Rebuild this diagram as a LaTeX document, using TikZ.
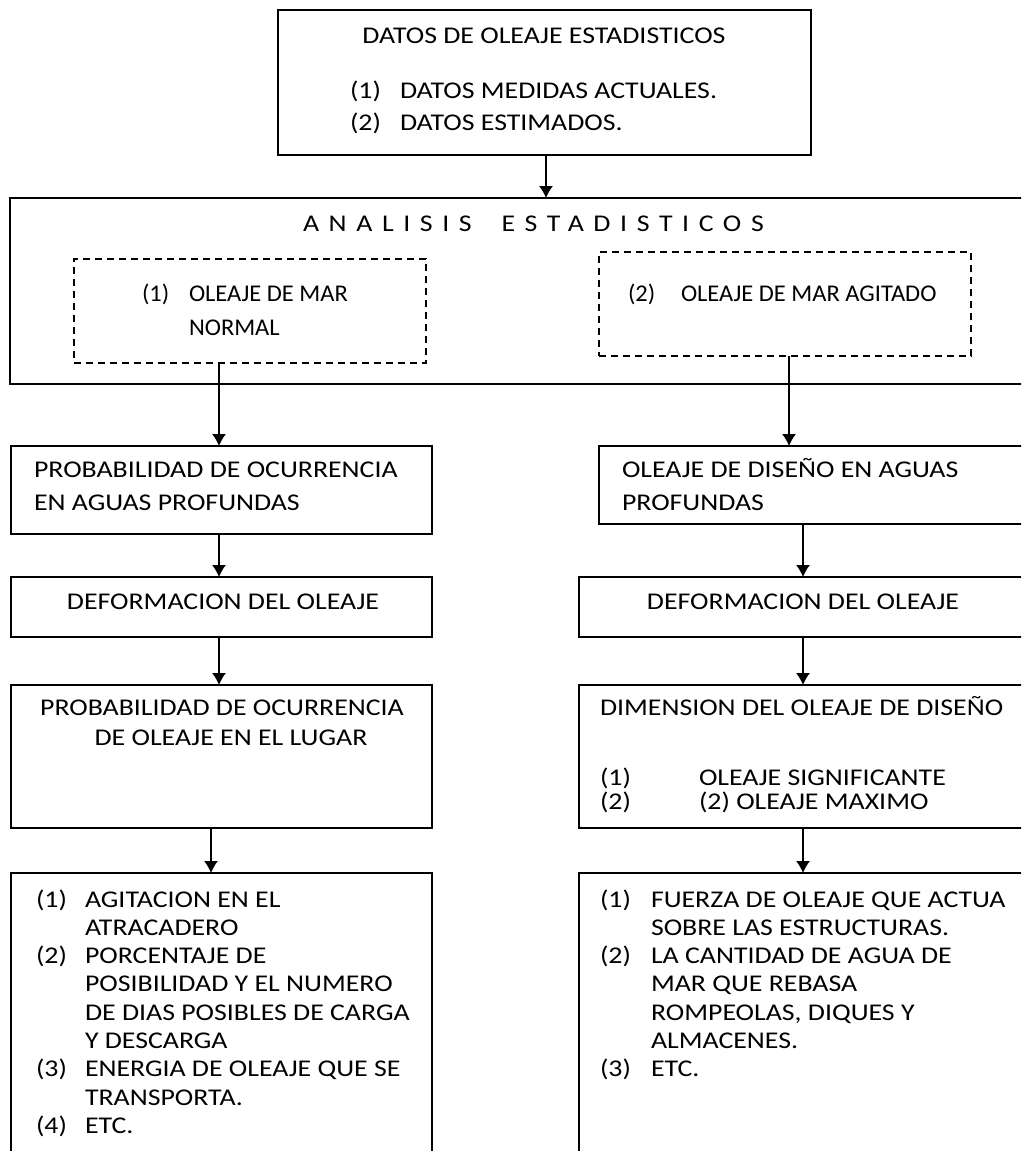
\documentclass[tikz,border=0pt]{standalone}
\usepackage{fontspec}
\setmainfont{Carlito}[FakeStretch=1.16]
\newfontfamily\spacedfont{Carlito}[FakeStretch=1.16,LetterSpace=40]
\newfontfamily\plainfont{Carlito}[FakeStretch=1.02]
\usetikzlibrary{arrows.meta}
\usetikzlibrary{positioning}
\tikzset{%
  >={Latex[length=12pt,width=14pt]},
  box/.style={draw,line width=1.2pt,inner sep=0pt,outer sep=0pt,anchor=north west},
  dashbox/.style={box,dash pattern=on 7pt off 5pt},
  txt/.style={inner sep=0pt,outer sep=0pt,anchor=base west,
    font=\fontsize{24}{28.3}\selectfont},
  ntxt/.style={txt,font=\plainfont\fontsize{24}{28.3}\selectfont},
  ctxt/.style={txt,anchor=base},
  flow/.style={->,line width=1.2pt}
}

\begin{document}
\begin{tikzpicture}[x=1pt,y=-1pt]
\useasboundingbox (0,0) rectangle (1021,1151);
\clip (0,0) rectangle (1021,1151);

% cajas
\node[box,minimum width=533pt,minimum height=145pt] (datos) at (278,10) {};
\node[box,minimum width=1020pt,minimum height=186pt] (ana) at (10,198) {};
\node[dashbox,minimum width=352pt,minimum height=104pt] (dashL) at (74,259) {};
\node[dashbox,minimum width=372pt,minimum height=104pt] (dashR) at (599,252) {};
\node[box,minimum width=421pt,minimum height=88pt] (probL) at (11,446) {};
\node[box,minimum width=431pt,minimum height=78pt] (disR) at (599,446) {};
\node[box,minimum width=421pt,minimum height=60pt] (defL) at (11,577) {};
\node[box,minimum width=451pt,minimum height=60pt] (defR) at (579,577) {};
\node[box,minimum width=421pt,minimum height=143pt] (ocL) at (11,685) {};
\node[box,minimum width=451pt,minimum height=143pt] (dimR) at (579,685) {};
\node[box,minimum width=421pt,minimum height=300pt] (resL) at (11,873) {};
\node[box,minimum width=451pt,minimum height=300pt] (resR) at (579,873) {};

% flechas
\coordinate (xt) at (546,0);
\coordinate (xl) at (219,0);
\coordinate (xl2) at (211,0);
\coordinate (xr) at (789,0);
\coordinate (xr2) at (803,0);
\draw[flow] (datos.south -| xt) -- (ana.north -| xt);
\draw[flow] (dashL.south -| xl) -- (probL.north -| xl);
\draw[flow] (probL.south -| xl) -- (defL.north -| xl);
\draw[flow] (defL.south -| xl) -- (ocL.north -| xl);
\draw[flow] (ocL.south -| xl2) -- (resL.north -| xl2);
\draw[flow] (dashR.south -| xr) -- (disR.north -| xr);
\draw[flow] (disR.south -| xr2) -- (defR.north -| xr2);
\draw[flow] (defR.south -| xr2) -- (dimR.north -| xr2);
\draw[flow] (dimR.south -| xr2) -- (resR.north -| xr2);

% textos
\node[ctxt] (datosT) at (544,43) {DATOS DE OLEAJE ESTADISTICOS};
\node[txt] (datos1) at (350,98) {(1)};
\node[txt] (datos1t) at (400,98) {DATOS MEDIDAS ACTUALES.};
\node[txt] (datos2) at (350,130) {(2)};
\node[txt] (datos2t) at (400,130) {DATOS ESTIMADOS.};

\node[txt] (anaT) at (303,231) {\spacedfont ANALISIS\hspace{30pt}ESTADISTICOS};

\node[ntxt] (dashL1) at (142,301) {(1)};
\node[ntxt] (dashL1t) at (189,301) {OLEAJE DE MAR};
\node[ntxt] (dashL2t) at (189,335) {NORMAL};
\node[ntxt] (dashR1) at (628,301) {(2)};
\node[ntxt] (dashR1t) at (681,301) {OLEAJE DE MAR AGITADO};

\node[txt] (probL1) at (34,477) {PROBABILIDAD DE OCURRENCIA};
\node[txt] (probL2) at (34,510) {EN AGUAS PROFUNDAS};
\node[txt] (disR1) at (622,477) {OLEAJE DE DISEÑO EN AGUAS};
\node[txt] (disR2) at (622,510) {PROFUNDAS};

\node[ctxt] (defLT) at (223,609) {DEFORMACION DEL OLEAJE};
\node[ctxt] (defRT) at (803,609) {DEFORMACION DEL OLEAJE};

\node[ctxt] (ocL1) at (222,715) {PROBABILIDAD DE OCURRENCIA};
\node[ctxt] (ocL2) at (231,745) {DE OLEAJE EN EL LUGAR};
\node[txt] (dimR0) at (600,715) {DIMENSION DEL OLEAJE DE DISEÑO};
\node[txt] (dimR1) at (600,785) {(1)};
\node[txt] (dimR1t) at (699,785) {OLEAJE SIGNIFICANTE};
\node[txt] (dimR2) at (600,809) {(2)};
\node[txt] (dimR2t) at (699,809) {(2) OLEAJE MAXIMO};

\foreach \lab/\line [count=\i from 0] in {(1)/AGITACION EN EL, /ATRACADERO,
    (2)/PORCENTAJE DE, /POSIBILIDAD Y EL NUMERO, /DE DIAS POSIBLES DE CARGA,
    /Y DESCARGA, (3)/ENERGIA DE OLEAJE QUE SE, /TRANSPORTA., (4)/ETC.}{
  \node[txt] (resL-l\i) at (36,{907+28.3*\i}) {\lab};
  \node[txt] (resL-t\i) at (85,{907+28.3*\i}) {\line};
}
\foreach \lab/\line [count=\i from 0] in {(1)/FUERZA DE OLEAJE QUE ACTUA,
    /SOBRE LAS ESTRUCTURAS., (2)/LA CANTIDAD DE AGUA DE, /MAR QUE REBASA,
    /{ROMPEOLAS, DIQUES Y}, /ALMACENES., (3)/ETC.}{
  \node[txt] (resR-l\i) at (600,{907+28.3*\i}) {\lab};
  \node[txt] (resR-t\i) at (651,{907+28.3*\i}) {\line};
}
\end{tikzpicture}
\end{document}
